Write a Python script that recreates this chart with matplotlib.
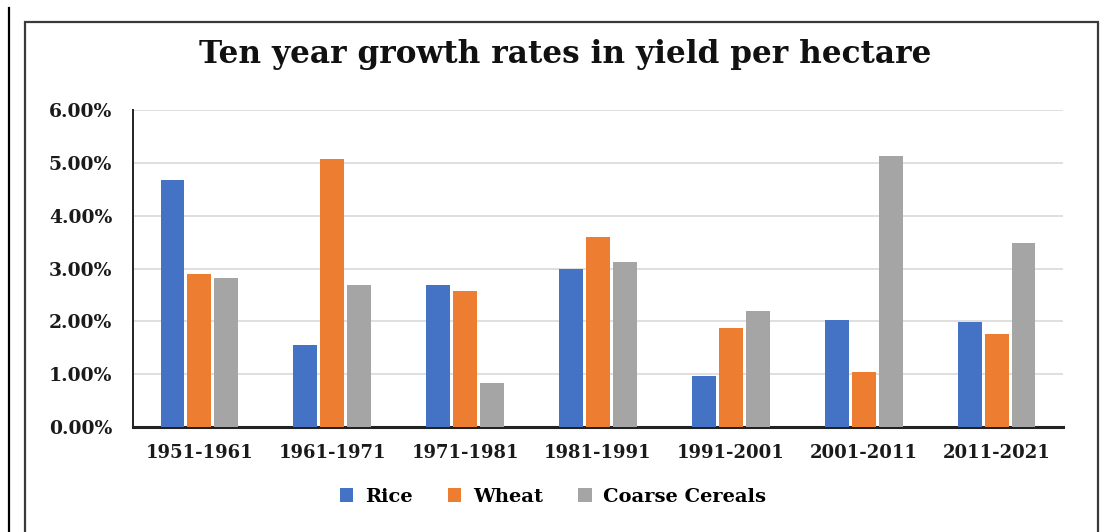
import numpy as np
import matplotlib
matplotlib.use("Agg")
import matplotlib.pyplot as plt
from matplotlib.patches import Rectangle
from matplotlib.lines import Line2D
from matplotlib.ticker import FuncFormatter

periods = ["1951-1961", "1961-1971", "1971-1981", "1981-1991",
           "1991-2001", "2001-2011", "2011-2021"]
rice = [4.68, 1.55, 2.69, 2.99, 0.97, 2.03, 1.99]
wheat = [2.90, 5.07, 2.57, 3.60, 1.87, 1.04, 1.76]
coarse = [2.82, 2.69, 0.83, 3.12, 2.20, 5.13, 3.48]

series = [("Rice", rice, "#4472C4"),
          ("Wheat", wheat, "#ED7D31"),
          ("Coarse Cereals", coarse, "#A5A5A5")]

FONT = "DejaVu Serif"

fig = plt.figure(figsize=(11.02, 5.32), dpi=100)
fig.patch.set_facecolor("white")

# outer page rule and chart frame
fig.add_artist(Line2D([8.5 / 1102, 8.5 / 1102], [0, 1 - 8 / 532],
                      transform=fig.transFigure, color="black", lw=1.6))
fig.add_artist(Rectangle((25 / 1102, -0.01), (1098 - 25) / 1102, 1 - 22 / 532 + 0.01,
                         transform=fig.transFigure, fill=False,
                         edgecolor="#3a3a3a", lw=1.6))

ax = fig.add_axes([133 / 1102, 1 - 427 / 532, (1063 - 133) / 1102, (427 - 110) / 532])

x = np.arange(len(periods))
width = 0.18
step = 0.203
for i, (name, vals, color) in enumerate(series):
    ax.bar(x + (i - 1) * step, vals, width, color=color, label=name, zorder=3)

ax.set_xlim(-0.5, len(periods) - 0.5)
ax.set_ylim(0, 6)
ax.set_yticks(np.arange(0, 7, 1))
ax.yaxis.set_major_formatter(FuncFormatter(lambda v, _: f"{v:.2f}%"))
ax.set_xticks(x)
ax.set_xticklabels(periods)
ax.grid(axis="y", color="#d9d9d9", lw=1.2, zorder=0)
ax.tick_params(length=0)
for lbl in ax.get_yticklabels():
    lbl.set_fontfamily(FONT)
    lbl.set_fontweight("bold")
    lbl.set_fontsize(13.5)
    lbl.set_color("#1a1a1a")
for lbl in ax.get_xticklabels():
    lbl.set_fontfamily(FONT)
    lbl.set_fontweight("bold")
    lbl.set_fontsize(13)
    lbl.set_color("#1a1a1a")
ax.tick_params(axis="y", pad=15)
ax.tick_params(axis="x", pad=12)

for side in ("top", "right"):
    ax.spines[side].set_visible(False)
ax.spines["left"].set_color("#222222")
ax.spines["left"].set_linewidth(1.4)
ax.spines["bottom"].set_color("#222222")
ax.spines["bottom"].set_linewidth(2.2)

fig.text(565 / 1102, 1 - 55 / 532, "Ten year growth rates in yield per hectare",
         ha="center", va="center", fontfamily=FONT, fontweight="bold",
         fontsize=22.4, color="#111111")

leg = fig.legend(loc="center", bbox_to_anchor=(553 / 1102, 1 - 497 / 532), ncol=3,
                 frameon=False, handlelength=0.7, handleheight=0.7,
                 handletextpad=0.6, columnspacing=1.8,
                 prop={"family": FONT, "weight": "bold", "size": 14})

fig.savefig("out.png", dpi=100, facecolor="white")
